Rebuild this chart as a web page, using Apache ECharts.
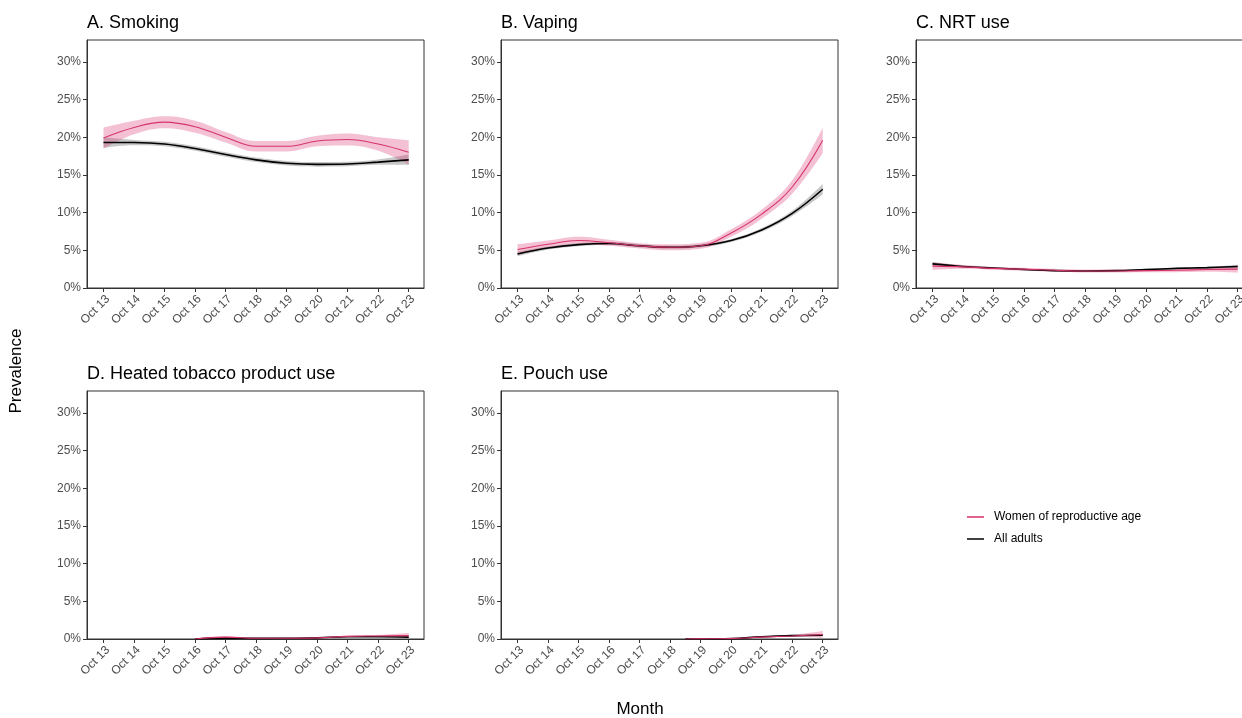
<!DOCTYPE html>
<html>
<head>
<meta charset="utf-8">
<script src="https://cdn.jsdelivr.net/npm/echarts@6/dist/echarts.min.js"></script>
<style>
  html, body { margin: 0; padding: 0; background: #fff; }
  #chart { width: 1242px; height: 718px; }
</style>
</head>
<body>
<div id="chart"></div>
<script>
// months since Oct 2013
const months = [0, 12, 24, 36, 48, 60, 72, 84, 96, 108, 120];
const heatedMonths = [36, 48, 60, 72, 84, 96, 108, 120];
const pouchMonths = [66, 72, 84, 96, 108, 120];
const tickLabels = ['Oct 13', 'Oct 14', 'Oct 15', 'Oct 16', 'Oct 17', 'Oct 18', 'Oct 19', 'Oct 20', 'Oct 21', 'Oct 22', 'Oct 23'];
const yTicks = [0, 5, 10, 15, 20, 25, 30];
const titles = ['A. Smoking', 'B. Vaping', 'C. NRT use', 'D. Heated tobacco product use', 'E. Pouch use'];

// prevalence (%) and half-width of the band (%)
const smokingWomen = [19.9, 21.3, 22.0, 21.4, 20.0, 18.8, 18.8, 19.5, 19.7, 19.1, 18.0];
const smokingWomenCI = [1.4, 0.9, 0.8, 0.8, 0.7, 0.7, 0.7, 0.7, 0.8, 0.9, 1.6];
const smokingAdults = [19.3, 19.3, 19.1, 18.5, 17.7, 17.0, 16.55, 16.4, 16.45, 16.7, 17.0];
const smokingAdultsCI = [0.7, 0.35, 0.3, 0.3, 0.3, 0.3, 0.3, 0.3, 0.3, 0.35, 0.7];

const vapingWomen = [5.1, 5.8, 6.3, 6.0, 5.6, 5.4, 5.6, 7.3, 9.8, 13.4, 19.6];
const vapingWomenCI = [0.7, 0.5, 0.5, 0.4, 0.35, 0.4, 0.4, 0.5, 0.6, 0.9, 1.7];
const vapingAdults = [4.5, 5.3, 5.75, 5.9, 5.6, 5.4, 5.6, 6.3, 7.7, 9.9, 13.1];
const vapingAdultsCI = [0.3, 0.2, 0.2, 0.2, 0.2, 0.2, 0.2, 0.2, 0.25, 0.35, 0.7];

const nrtWomen = [2.9, 2.8, 2.6, 2.5, 2.35, 2.25, 2.25, 2.3, 2.35, 2.45, 2.5];
const nrtWomenCI = [0.5, 0.25, 0.2, 0.2, 0.2, 0.2, 0.2, 0.2, 0.25, 0.3, 0.5];
const nrtAdults = [3.2, 2.85, 2.65, 2.45, 2.3, 2.25, 2.3, 2.45, 2.6, 2.7, 2.85];
const nrtAdultsCI = [0.25, 0.12, 0.1, 0.1, 0.1, 0.1, 0.1, 0.1, 0.1, 0.12, 0.25];

const heatedWomen = [0.0, 0.25, 0.1, 0.1, 0.15, 0.35, 0.4, 0.45];
const heatedWomenCI = [0.05, 0.1, 0.05, 0.05, 0.05, 0.1, 0.15, 0.35];
const heatedAdults = [0.0, 0.12, 0.08, 0.1, 0.15, 0.3, 0.3, 0.25];
const heatedAdultsCI = [0.02, 0.04, 0.03, 0.03, 0.03, 0.04, 0.05, 0.08];

const pouchWomen = [0.0, 0.02, 0.05, 0.25, 0.4, 0.6];
const pouchWomenCI = [0.02, 0.02, 0.05, 0.1, 0.15, 0.45];
const pouchAdults = [0.0, 0.0, 0.05, 0.3, 0.45, 0.5];
const pouchAdultsCI = [0.01, 0.01, 0.02, 0.05, 0.05, 0.1];

const panelData = [
  [months, smokingWomen, smokingWomenCI, smokingAdults, smokingAdultsCI],
  [months, vapingWomen, vapingWomenCI, vapingAdults, vapingAdultsCI],
  [months, nrtWomen, nrtWomenCI, nrtAdults, nrtAdultsCI],
  [heatedMonths, heatedWomen, heatedWomenCI, heatedAdults, heatedAdultsCI],
  [pouchMonths, pouchWomen, pouchWomenCI, pouchAdults, pouchAdultsCI]
];

const gridPos = [[87, 40], [501, 40], [916, 40], [87, 391], [501, 391]];
const PINK = '#d6336c';
const FONT = 'Liberation Sans';

const chart = echarts.init(document.getElementById('chart'));

const grid = [], xAxis = [], yAxis = [], title = [], series = [];

// value goes in column 0 so the stack is applied to y, not x
function addBand(i, xs, mid, ci, color, key) {
  series.push({
    type: 'line', xAxisIndex: i, yAxisIndex: i, stack: key + i, smooth: 0.4,
    symbol: 'none', silent: true, lineStyle: { opacity: 0 },
    encode: { x: 1, y: 0 },
    data: xs.map((x, k) => [mid[k] - ci[k], x])
  });
  series.push({
    type: 'line', xAxisIndex: i, yAxisIndex: i, stack: key + i, smooth: 0.4,
    symbol: 'none', silent: true, lineStyle: { opacity: 0 },
    areaStyle: { color: color, opacity: 1 },
    encode: { x: 1, y: 0 },
    data: xs.map((x, k) => [2 * ci[k], x])
  });
}

panelData.forEach((p, i) => {
  const [xs, women, womenCI, adults, adultsCI] = p;
  const [left, top] = gridPos[i];
  grid.push({
    left: left, top: top, width: 337, height: 248, outerBoundsMode: 'none',
    show: true, borderColor: '#333', borderWidth: 1, backgroundColor: '#fff'
  });
  xAxis.push({
    gridIndex: i, type: 'value', min: -6.5, max: 126,
    axisLine: { show: true, onZero: false, lineStyle: { color: '#333' } },
    axisTick: { show: true, customValues: months, length: 4, lineStyle: { color: '#333' } },
    axisLabel: {
      customValues: months, rotate: 45, align: 'right', verticalAlign: 'top', margin: 5,
      color: '#4d4d4d', fontSize: 12, fontFamily: FONT,
      formatter: v => tickLabels[Math.round(v / 12)]
    },
    splitLine: { show: false }
  });
  yAxis.push({
    gridIndex: i, type: 'value', min: 0, max: 32.9,
    axisLine: { show: true, onZero: false, lineStyle: { color: '#333' } },
    axisTick: { show: true, customValues: yTicks, length: 4, lineStyle: { color: '#333' } },
    axisLabel: { customValues: yTicks, formatter: '{value}%', color: '#4d4d4d', fontSize: 12, fontFamily: FONT, margin: 6 },
    splitLine: { show: false }
  });
  title.push({
    text: titles[i], left: left, top: top - 26, padding: 0,
    textStyle: { fontSize: 18, fontWeight: 'normal', color: '#000', fontFamily: FONT }
  });
  addBand(i, xs, adults, adultsCI, 'rgba(0,0,0,0.22)', 'a');
  addBand(i, xs, women, womenCI, 'rgba(214,51,108,0.3)', 'w');
  series.push({
    name: 'All adults', type: 'line', xAxisIndex: i, yAxisIndex: i, smooth: 0.4,
    symbol: 'none', color: '#000', lineStyle: { width: 1.6, color: '#000' },
    data: xs.map((x, k) => [x, adults[k]])
  });
  series.push({
    name: 'Women of reproductive age', type: 'line', xAxisIndex: i, yAxisIndex: i, smooth: 0.4,
    symbol: 'none', color: PINK, lineStyle: { width: 1.1, color: PINK },
    data: xs.map((x, k) => [x, women[k]])
  });
});

chart.setOption({
  animation: false,
  backgroundColor: '#fff',
  title: title,
  grid: grid,
  xAxis: xAxis,
  yAxis: yAxis,
  legend: {
    data: ['Women of reproductive age', 'All adults'],
    orient: 'vertical', left: 967, top: 511, padding: 0,
    icon: 'rect', itemWidth: 17, itemHeight: 1.5, itemGap: 10,
    selectedMode: false,
    textStyle: { fontSize: 12, color: '#000', fontFamily: FONT, padding: [0, 0, 0, 5] }
  },
  graphic: [
    { type: 'text', x: 16, y: 371, rotation: Math.PI / 2,
      style: { text: 'Prevalence', fontSize: 17, fontFamily: FONT, fill: '#000', align: 'center', verticalAlign: 'middle' } },
    { type: 'text', x: 640, y: 709,
      style: { text: 'Month', fontSize: 17, fontFamily: FONT, fill: '#000', align: 'center', verticalAlign: 'middle' } }
  ],
  series: series
});
</script>
</body>
</html>
